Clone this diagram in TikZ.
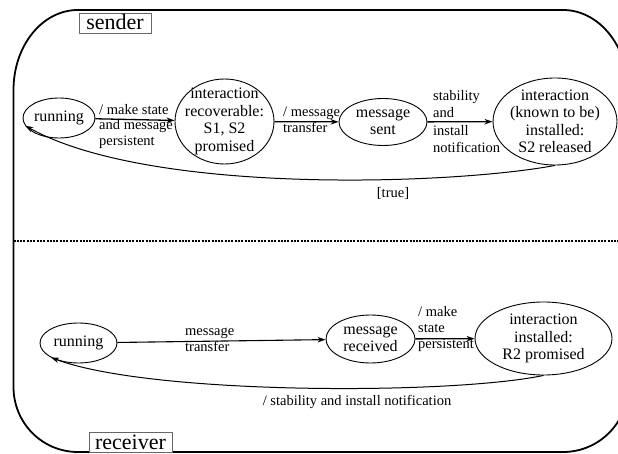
\documentclass[tikz,border=0pt]{standalone}
\usepackage{fontspec}
\setmainfont{Liberation Serif}
\usetikzlibrary{arrows.meta,shapes.geometric}
\begin{document}
\begin{tikzpicture}[x=1pt, y=-1pt, line join=round, >={Stealth[length=8pt,width=5.5pt]},
    st/.style={ellipse, draw, line width=0.9pt, inner sep=-6pt, align=center, font=\fontsize{16}{17.5}\selectfont},
    lbl/.style={inner sep=0pt, align=left, font=\fontsize{14.5}{16}\selectfont},
    tag/.style={draw=black!60, line width=0.7pt, fill=white, inner xsep=4pt, inner ysep=2pt, text height=15pt, text depth=1pt, font=\fontsize{22}{24}\selectfont}]
    \useasboundingbox (0,0) rectangle (618,454);
    % frame
    \draw[line width=1.8pt]
    (78,10) -- (563,10) .. controls (598.9,10) and (628,45.8) .. (628,90)
    -- (628,387) .. controls (628,422.9) and (598.9,452) .. (563,452)
    -- (78,452) .. controls (42.1,452) and (13.5,422.9) .. (13.5,387)
    -- (13.5,90) .. controls (13.5,45.8) and (42.1,10) .. (78,10) -- cycle;
    \draw[line width=2.4pt, dash pattern=on 2pt off 1.3pt] (13.5,241) -- (618,241);
    \node[tag, minimum width=72pt] (sender) at (115,23) {sender};
    \node[tag, minimum width=83pt] (receiver) at (130.5,442) {receiver};
    % sender
    \node[st, minimum width=72pt, minimum height=40pt] (srun) at (59,118) {running};
    \node[st, minimum width=99pt, minimum height=85pt] (srec) at (224.5,121.5) {interaction\\recoverable:\\S1, S2\\promised};
    \node[st, minimum width=88pt, minimum height=47pt] (ssent) at (383,122) {message\\sent};
    \node[st, minimum width=124pt, minimum height=87pt] (sknown) at (555,121.5) {interaction\\(known to be)\\installed:\\S2 released};
    \draw[->, line width=1.3pt] (srun) -- (srec);
    \draw[->, line width=1.3pt] (srec) -- (ssent);
    \draw[->, line width=1.3pt] (ssent) -- (sknown);
    \draw[->, line width=1pt] (sknown.south) .. controls (450,185) and (150,195) .. (srun.193);
    \node[lbl, anchor=west, font=\fontsize{14.5}{15.5}\selectfont] (slbl1) at (99,126.5) {/ make state\\and message\\persistent};
    \node[lbl, anchor=west] (slbl2) at (283,120) {/ message\\transfer};
    \node[lbl, anchor=west, font=\fontsize{14.5}{17.6}\selectfont] (slbl3) at (433,121.5) {stability\\and\\install\\notification};
    \node[lbl] (strue) at (393,193) {[true]};
    % receiver
    \node[st, minimum width=77pt, minimum height=40pt] (rrun) at (78.5,343) {running};
    \node[st, minimum width=89pt, minimum height=48pt] (rrecv) at (370.5,339) {message\\received};
    \node[st, minimum width=137pt, minimum height=73pt] (rinst) at (543.5,338.5) {interaction\\installed:\\R2 promised};
    \draw[->, line width=1.1pt] (rrun) -- (rrecv);
    \draw[->, line width=1.3pt] (rrecv) -- (rinst);
    \draw[->, line width=1pt] (rinst.south) .. controls (450,395) and (150,395) .. (rrun.208);
    \node[lbl, anchor=west] (rlbl1) at (185,340) {message\\transfer};
    \node[lbl, anchor=west] (rlbl2) at (418,329) {/ make\\state\\persistent};
    \node[lbl] (rlbl3) at (357,402) {/ stability and install notification};
\end{tikzpicture}
\end{document}
